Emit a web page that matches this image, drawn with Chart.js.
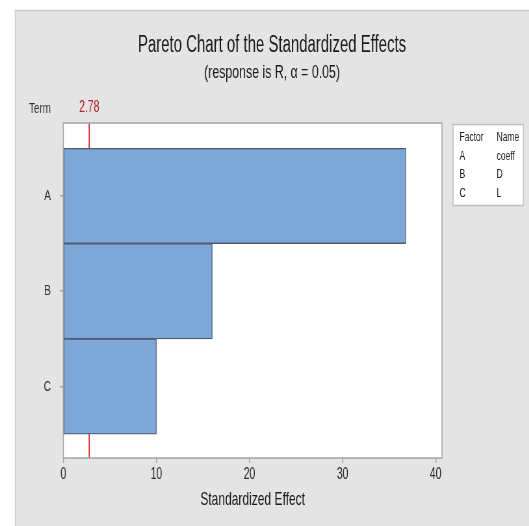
<!DOCTYPE html>
<html lang="en">
<head>
  <meta charset="UTF-8">
  <title>Pareto Chart of the Standardized Effects</title>
  <script src="https://cdn.jsdelivr.net/npm/chart.js@4.4.0/dist/chart.umd.min.js"></script>
  <style>
    html, body { margin: 0; padding: 0; background: #fff; overflow: hidden; }
    /* o grafico original vem achatado na horizontal, entao desenha largo e comprime */
    .caixa { width: 814px; height: 526px; transform: scaleX(0.65); transform-origin: 0 0; }
  </style>
</head>
<body>
  <div class="caixa">
    <canvas id="pareto" width="814" height="526"></canvas>
  </div>

<script>
  // dados
  var termos = ['A', 'B', 'C'];
  var efeitos = [36.8, 16.0, 10.0];
  var critico = 2.78;
  var xTicks = [0, 10, 20, 30, 40];
  var fatores = ['A', 'B', 'C'];
  var nomes = ['coeff', 'D', 'L'];

  var titulo = 'Pareto Chart of the Standardized Effects';
  var subtitulo = '(response is R, \u03b1 = 0.05)';

  var fonte = '"Liberation Sans", Arial, sans-serif';

  const extras = {
    id: 'extras',
    beforeDraw(chart) {
      const ctx = chart.ctx;
      const a = chart.chartArea;
      ctx.save();
      // fundo cinza do painel
      ctx.fillStyle = '#fff';
      ctx.fillRect(0, 0, chart.width, chart.height);
      ctx.fillStyle = '#e4e4e4';
      ctx.fillRect(23, 10, chart.width - 23, chart.height - 10);
      ctx.strokeStyle = '#cdcdcd';
      ctx.lineWidth = 1.5;
      ctx.beginPath();
      ctx.moveTo(23.5, chart.height);
      ctx.lineTo(23.5, 10.5);
      ctx.lineTo(chart.width, 10.5);
      ctx.stroke();
      // area do grafico branca
      ctx.fillStyle = '#fff';
      ctx.fillRect(a.left, a.top, a.right - a.left, a.bottom - a.top);

      // titulos
      ctx.fillStyle = '#1a1a1a';
      ctx.textAlign = 'center';
      ctx.textBaseline = 'middle';
      ctx.font = '23px ' + fonte;
      ctx.fillText(titulo, 418.5, 46);
      ctx.font = '19px ' + fonte;
      ctx.fillText(subtitulo, 418.5, 73);

      ctx.fillStyle = '#333';
      ctx.font = '15px ' + fonte;
      ctx.fillText('Term', 61.5, 109);

      // legenda dos fatores
      ctx.fillStyle = '#fff';
      ctx.fillRect(697, 124, 108, 81);
      ctx.strokeStyle = '#bdbdbd';
      ctx.lineWidth = 1.5;
      ctx.strokeRect(697, 124.5, 108, 81);
      ctx.textAlign = 'left';
      ctx.font = '13px ' + fonte;
      ctx.fillStyle = '#222';
      ctx.fillText('Factor', 707, 137);
      ctx.fillText('Name', 764, 137);
      for (let i = 0; i < fatores.length; i++) {
        ctx.fillText(fatores[i], 707, 156 + i * 18.5);
        ctx.fillText(nomes[i], 764, 156 + i * 18.5);
      }
      ctx.restore();
    },
    beforeDatasetsDraw(chart) {
      // linha do valor critico, atras das barras
      const ctx = chart.ctx;
      const a = chart.chartArea;
      const x = chart.scales.x.getPixelForValue(critico);
      ctx.save();
      ctx.strokeStyle = '#dd1111';
      ctx.lineWidth = 1.6;
      ctx.beginPath();
      ctx.moveTo(x, a.top);
      ctx.lineTo(x, a.bottom);
      ctx.stroke();
      ctx.fillStyle = '#b0262e';
      ctx.font = '16px ' + fonte;
      ctx.textAlign = 'center';
      ctx.textBaseline = 'middle';
      ctx.fillText(critico.toFixed(2), x, 108);
      ctx.restore();
    },
    afterDraw(chart) {
      const ctx = chart.ctx;
      const a = chart.chartArea;
      ctx.save();
      ctx.strokeStyle = '#a3a3a3';
      ctx.lineWidth = 1.5;
      ctx.strokeRect(a.left, a.top, a.right - a.left, a.bottom - a.top);
      ctx.restore();
    }
  };

  let grafico = new Chart(document.getElementById('pareto'), {
    type: 'bar',
    data: {
      datasets: [{
        label: 'Standardized Effect',
        data: efeitos.map((v, i) => ({ x: v, y: i + 1 })),
        backgroundColor: '#7da7d9',
        borderColor: '#505a68',
        borderWidth: 1.3,
        borderSkipped: false,
        barPercentage: 1,
        categoryPercentage: 1
      }]
    },
    options: {
      indexAxis: 'y',
      responsive: false,
      animation: false,
      devicePixelRatio: 1,
      layout: { padding: { left: 0, top: 123, right: 134, bottom: 0 } },
      plugins: {
        legend: { display: false },
        tooltip: { enabled: false }
      },
      scales: {
        x: {
          type: 'linear',
          min: 0,
          max: 40.68,
          afterBuildTicks: s => { s.ticks = xTicks.map(v => ({ value: v })); },
          afterFit: s => { s.height = 68; },
          border: { display: false },
          grid: { drawOnChartArea: false, drawTicks: true, tickLength: 5, color: '#a3a3a3', lineWidth: 1.5 },
          ticks: { color: '#2b2b2b', font: { family: fonte, size: 16 }, padding: 2, maxRotation: 0 },
          title: {
            display: true,
            text: 'Standardized Effect',
            color: '#1a1a1a',
            font: { family: fonte, size: 18.5 },
            padding: { top: 0, bottom: 15 }
          }
        },
        y: {
          type: 'linear',
          reverse: true,
          offset: false,
          min: 0.235,
          max: 3.75,
          afterBuildTicks: s => { s.ticks = termos.map((t, i) => ({ value: i + 1 })); },
          afterFit: s => { s.width = 97.4; },
          border: { display: false },
          grid: { offset: false, drawOnChartArea: false, drawTicks: true, tickLength: 5, color: '#a3a3a3', lineWidth: 1.5 },
          ticks: {
            color: '#2b2b2b',
            font: { family: fonte, size: 15.5 },
            padding: 14,
            callback: v => termos[v - 1] || ''
          }
        }
      }
    },
    plugins: [extras]
  });
</script>
</body>
</html>
